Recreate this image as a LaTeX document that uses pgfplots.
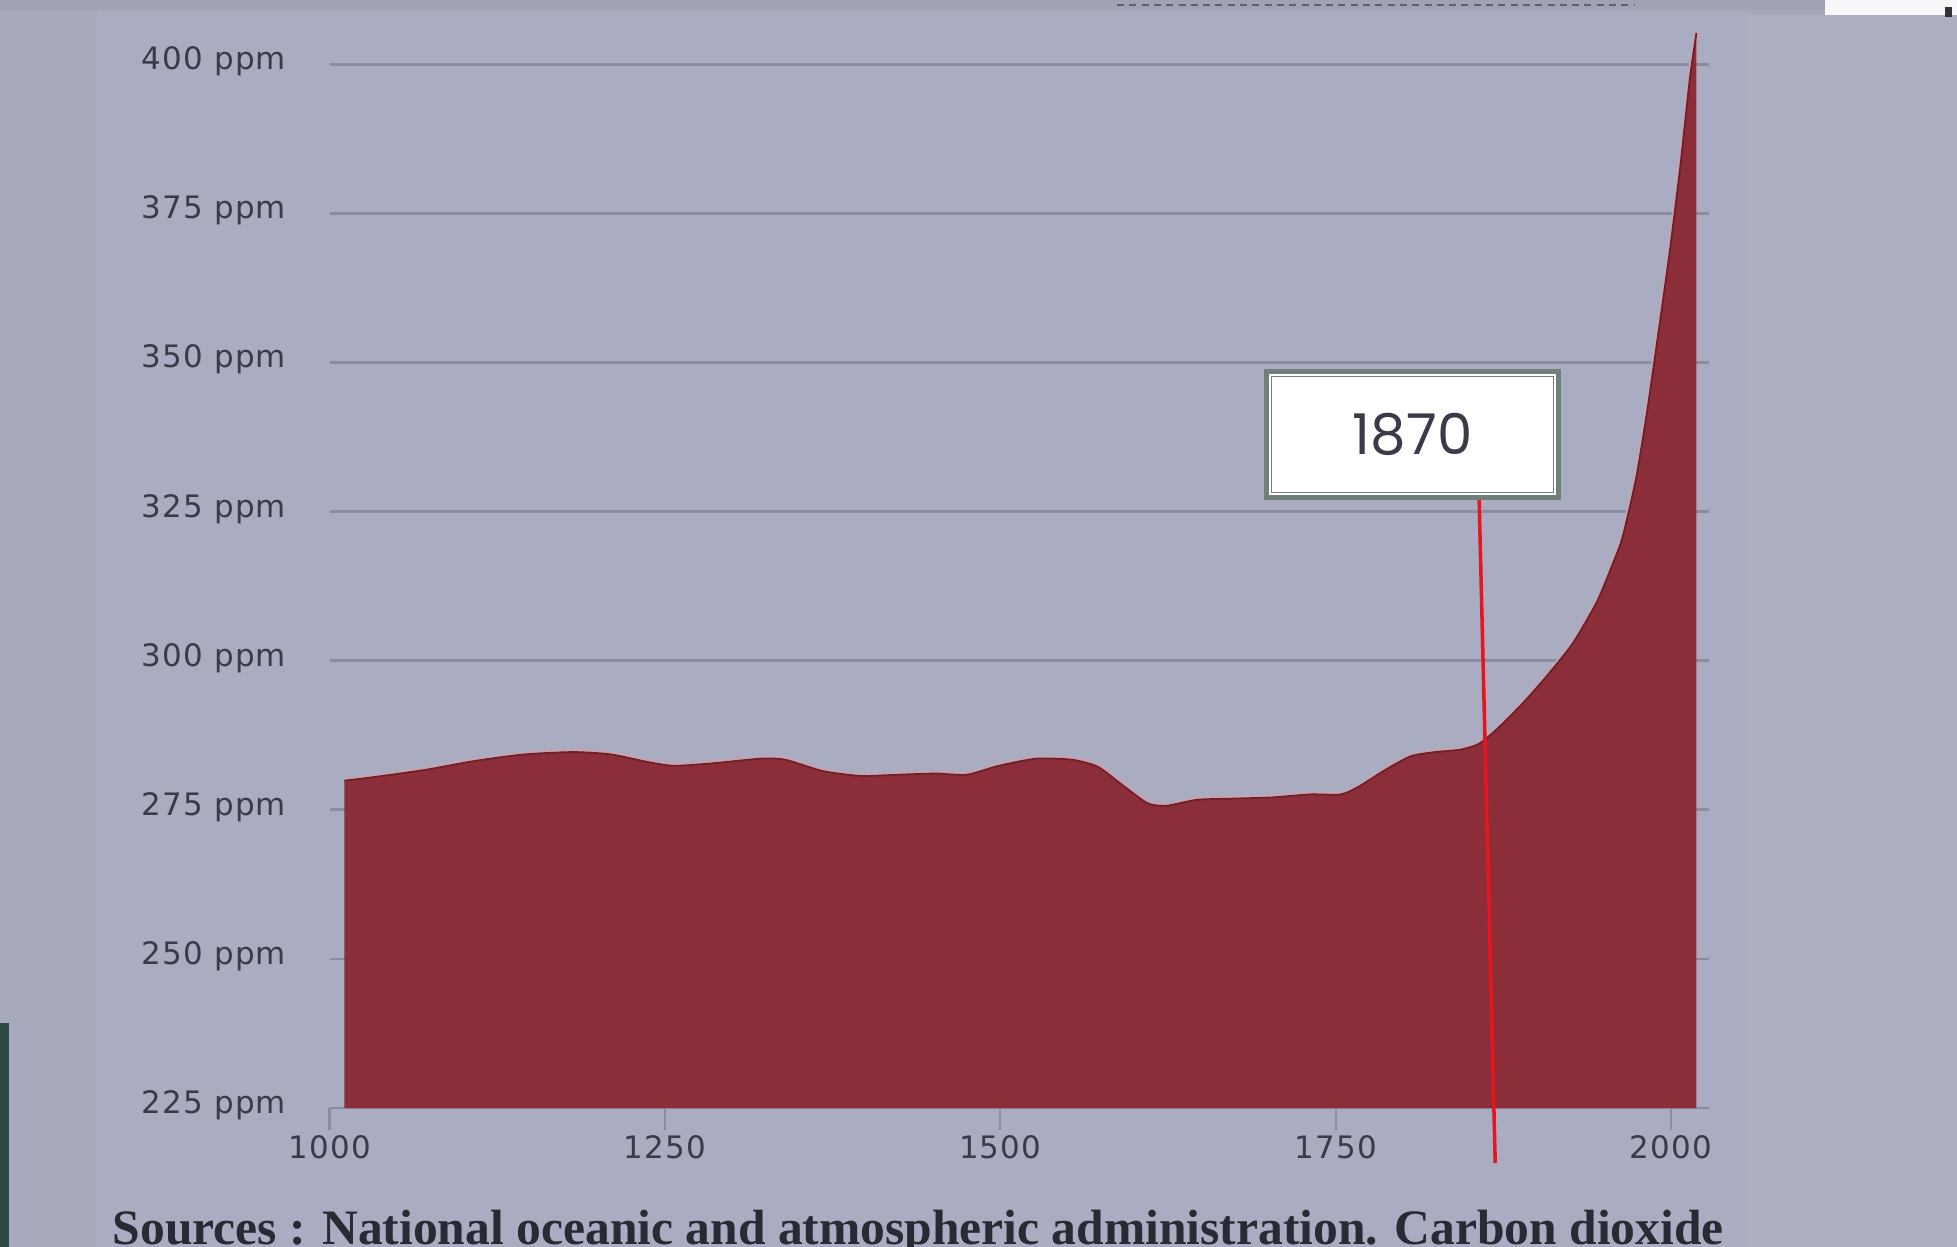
\documentclass[border=0pt]{standalone}
\usepackage{pgfplots}
\pgfplotsset{compat=1.18}
\usepackage{fontspec}
\setmainfont{DejaVu Sans}
\newfontfamily\boxfont{Poppins}
\newfontfamily\srcfont{Liberation Serif}
\definecolor{bgout}{HTML}{A6A8BB}
\definecolor{bg}{HTML}{AAACC1}
\definecolor{bgright}{HTML}{ADAFC3}
\definecolor{bgtop}{HTML}{A0A2B5}
\definecolor{darkstrip}{HTML}{2E4A45}
\definecolor{srcc}{HTML}{2A2A35}
\definecolor{gridc}{HTML}{8A8CA0}
\definecolor{labc}{HTML}{3A3A48}
\definecolor{fillc}{HTML}{8C2D3A}
\definecolor{edgec}{HTML}{6E1F2A}
\definecolor{haloc}{HTML}{C7A3AE}
\definecolor{boxc}{HTML}{727F7A}
\definecolor{redl}{HTML}{E8141E}
\pgfplotstableread{
year ppm
1011 279.9
1033 280.5
1071 281.7
1108 283.2
1145 284.3
1182 284.7
1210 284.3
1238 283.0
1257 282.4
1285 282.8
1322 283.6
1340 283.4
1368 281.5
1396 280.7
1424 280.9
1452 281.1
1475 280.9
1499 282.4
1527 283.6
1554 283.4
1573 282.2
1592 279.0
1610 276.1
1624 275.7
1647 276.7
1675 276.9
1703 277.1
1731 277.6
1754 277.6
1768 279.0
1787 281.7
1806 284.0
1824 284.7
1843 285.1
1857 286.1
1871 288.7
1890 293.0
1908 297.6
1927 303.0
1945 310.0
1957 316.5
1964 320.8
1974 330.6
1982 341.5
1990 354.0
1999 368.5
2007 383.0
2014 397.5
2019 405.3
}\co
\begin{document}
\begin{tikzpicture}
\fill[bgout] (0,0) rectangle (19.57,12.47);
\begin{scope}
\clip (0,0) rectangle (19.57,12.47);
\fill[bg] (0.97,0) rectangle (17.47,12.35);
\fill[bgright] (17.47,0) rectangle (19.57,12.32);
\fill[bgtop] (0,12.37) rectangle (19.57,12.47);
\draw[labc!80, line width=0.8pt, dash pattern=on 2pt off 1.5pt] (11.17,12.42) -- (16.35,12.42);
\fill[white!92!bg] (18.25,12.32) rectangle (19.57,12.47);
\fill[darkstrip] (0,0) rectangle (0.09,2.24);
\fill[black!80] (19.45,12.30) rectangle (19.52,12.40);
\node[overlay, anchor=base west, inner sep=0pt, text=srcc, font=\srcfont\bfseries\fontsize{14.1}{16}\selectfont] at (1.12,0.03) {Sources : National oceanic and atmospheric administration. Carbon dioxide};
\end{scope}
\begin{axis}[
  at={(3.295cm,1.39cm)}, anchor=south west,
  scale only axis, width=13.79cm, height=11.03cm,
  xmin=1000, xmax=2028, ymin=225, ymax=410,
  axis x line*=bottom, axis y line*=left,
  y axis line style={draw=none},
  x axis line style={draw=gridc, line width=0.6pt, -},
  xtick={1000,1250,1500,1750,2000},
  xticklabels={1000,1250,1500,1750,2000},
  ytick={225,250,275,300,325,350,375,400},
  yticklabels={225 ppm,250 ppm,275 ppm,300 ppm,325 ppm,350 ppm,375 ppm,400 ppm},
  ymajorgrids, grid style={gridc, line width=0.8pt},
  tick align=outside,
  xtick style={draw=gridc, line width=0.6pt},
  major tick length=0.22cm,
  ytick style={draw=none},
  tick label style={font=\fontsize{8.8}{10}\selectfont\addfontfeatures{LetterSpace=4}, text=labc},
  yticklabel style={xshift=-0.09cm, yshift=0.03cm},
  xticklabel style={yshift=0.07cm},
  clip mode=individual,
]
\addplot[draw=haloc, line width=1.6pt, smooth, tension=0.4] table[x=year, y=ppm] {\co};
\addplot[fill=fillc, draw=none, smooth, tension=0.4] table[x=year, y=ppm] {\co} \closedcycle;
\addplot[draw=edgec, line width=0.5pt, smooth, tension=0.4] table[x=year, y=ppm] {\co};
\draw[redl, line width=1pt] (axis cs:1857,327.2) -- (axis cs:1869,215.8);
\node[draw=boxc, line width=0.05cm, fill=white, minimum width=2.92cm, minimum height=1.26cm, inner sep=0pt] at (axis cs:1807.4,338) {};
\node[draw=boxc, line width=0.013cm, fill=white, minimum width=2.82cm, minimum height=1.16cm, inner sep=0pt, text=labc, font=\boxfont\fontsize{16}{18}\selectfont] at (axis cs:1807.4,338) {1870};
\end{axis}
\end{tikzpicture}
\end{document}
